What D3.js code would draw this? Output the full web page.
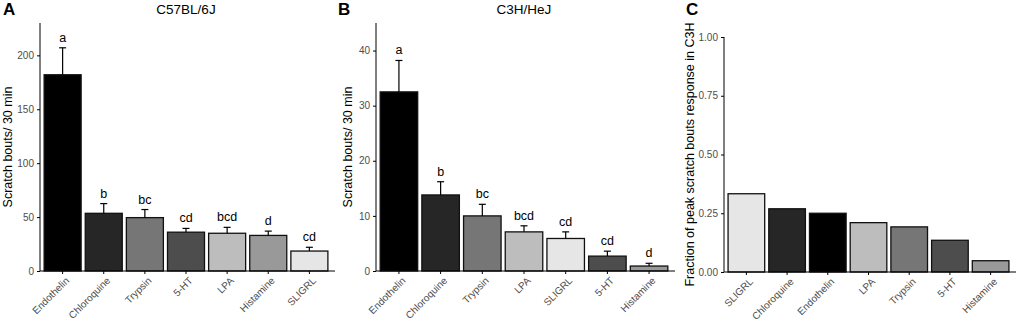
<!DOCTYPE html>
<html>
<head>
<meta charset="utf-8">
<script src="https://cdn.jsdelivr.net/npm/d3@7"></script>
<style>
  body { margin: 0; background: #fff; }
  svg { font-family: "Liberation Sans", Arial, sans-serif; }
  .tick text { fill: #4d4d4d; font-size: 10px; }
  .domain, .tick line { stroke: #000; }
</style>
</head>
<body>
<div id="chart"></div>
<script>
// Panel A: C57BL/6J
const catsA = ["Endothelin", "Chloroquine", "Trypsin", "5-HT", "LPA", "Histamine", "SLIGRL"];
const meanA = [182, 53.5, 49.5, 36, 35, 33, 18.5];
const errA  = [207, 62.5, 57, 39.5, 40.5, 37, 22];
const letA  = ["a", "b", "bc", "cd", "bcd", "d", "cd"];
const ticksA = [0, 50, 100, 150, 200];

// Panel B: C3H/HeJ
const catsB = ["Endothelin", "Chloroquine", "Trypsin", "LPA", "SLIGRL", "5-HT", "Histamine"];
const meanB = [32.5, 13.8, 10, 7.1, 5.9, 2.7, 0.9];
const errB  = [38.2, 16.2, 12.1, 8.2, 7.1, 3.6, 1.4];
const letB  = ["a", "b", "bc", "bcd", "cd", "cd", "d"];
const ticksB = [0, 10, 20, 30, 40];

// Panel C: fraction of peak in C3H
const catsC = ["SLIGRL", "Chloroquine", "Endothelin", "LPA", "Trypsin", "5-HT", "Histamine"];
const fracC = [0.333, 0.269, 0.25, 0.21, 0.192, 0.135, 0.048];
const ticksC = [0, 0.25, 0.5, 0.75, 1];

// fill per compound
const fillOf = {
  "Endothelin": "#000000", "Chloroquine": "#262626", "Trypsin": "#767676",
  "5-HT": "#4d4d4d", "LPA": "#bdbdbd", "Histamine": "#999999", "SLIGRL": "#e6e6e6"
};

const svg = d3.select("#chart").append("svg")
  .attr("width", 1021).attr("height", 320);

function panel(o) {
  const x = d3.scaleBand().domain(o.cats).range([o.x0, o.x1]).padding(0.1);
  const y = d3.scaleLinear().domain(o.domain).range([o.y0, o.yTop]);
  const g = svg.append("g");

  // bars
  g.selectAll("rect.bar").data(o.cats).join("rect")
    .attr("class", "bar")
    .attr("x", d => x(d))
    .attr("width", x.bandwidth())
    .attr("y", (d, i) => y(o.vals[i]))
    .attr("height", (d, i) => y(0) - y(o.vals[i]))
    .attr("fill", d => fillOf[d])
    .attr("stroke", "#111")
    .attr("stroke-width", 1.3);

  // error bars (upper only)
  if (o.errs) {
    const cx = d => x(d) + x.bandwidth() / 2;
    g.selectAll("line.err").data(o.cats).join("line")
      .attr("x1", cx).attr("x2", cx)
      .attr("y1", (d, i) => y(o.vals[i]))
      .attr("y2", (d, i) => y(o.errs[i]))
      .attr("stroke", "#000").attr("stroke-width", 1.2);
    g.selectAll("line.cap").data(o.cats).join("line")
      .attr("x1", d => cx(d) - 3.5).attr("x2", d => cx(d) + 3.5)
      .attr("y1", (d, i) => y(o.errs[i]))
      .attr("y2", (d, i) => y(o.errs[i]))
      .attr("stroke", "#000").attr("stroke-width", 1.2);
    g.selectAll("text.let").data(o.cats).join("text")
      .attr("x", cx)
      .attr("y", (d, i) => y(o.errs[i]) - 6)
      .attr("text-anchor", "middle")
      .style("font-size", "12.5px")
      .text((d, i) => o.letters[i]);
  }

  // axes
  g.append("g")
    .attr("transform", `translate(${o.x0},0)`)
    .call(d3.axisLeft(y).tickValues(o.ticks).tickSize(3).tickFormat(o.fmt).tickSizeOuter(0))
    .call(a => a.select(".domain").attr("d", `M0,${o.y0}V${o.yTop}`));
  g.append("g")
    .attr("transform", `translate(0,${o.y0})`)
    .call(d3.axisBottom(x).tickSize(3).tickSizeOuter(0))
    .call(a => a.select(".domain").attr("d", `M${o.x0},0H${o.x1 + 3}`))
    .selectAll("text")
      .attr("text-anchor", "end")
      .attr("dy", null)
      .attr("transform", "translate(3,6) rotate(-45)");

  // y label
  svg.append("text")
    .attr("transform", `translate(${o.labX},${(o.y0 + o.labTop) / 2}) rotate(-90)`)
    .attr("text-anchor", "middle")
    .style("font-size", "12.5px")
    .text(o.ylab);

  // panel letter and title
  svg.append("text").attr("x", o.letX).attr("y", 15)
    .style("font-size", "17px").style("font-weight", "bold").text(o.letter);
  if (o.title) {
    svg.append("text").attr("x", (o.x0 + o.x1) / 2).attr("y", 14)
      .attr("text-anchor", "middle").style("font-size", "13.5px").text(o.title);
  }
}

panel({cats: catsA, vals: meanA, errs: errA, letters: letA, ticks: ticksA,
  domain: [0, 230], x0: 40, x1: 332, y0: 271, yTop: 23, fmt: d3.format("d"),
  ylab: "Scratch bouts/ 30 min", labX: 12, labTop: 23, letter: "A", letX: 3, title: "C57BL/6J"});

panel({cats: catsB, vals: meanB, errs: errB, letters: letB, ticks: ticksB,
  domain: [0, 45], x0: 376, x1: 672, y0: 271, yTop: 23, fmt: d3.format("d"),
  ylab: "Scratch bouts/ 30 min", labX: 352, labTop: 23, letter: "B", letX: 338, title: "C3H/HeJ"});

panel({cats: catsC, vals: fracC, ticks: ticksC,
  domain: [0, 1], x0: 724, x1: 1013, y0: 272, yTop: 37, fmt: d3.format(".2f"),
  ylab: "Fraction of peak scratch bouts response in C3H", labX: 694, labTop: 37, letter: "C", letX: 686});
</script>
</body>
</html>
